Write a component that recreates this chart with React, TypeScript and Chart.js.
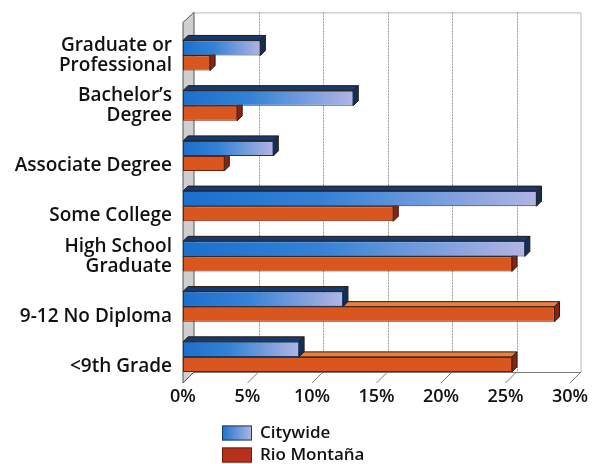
import React, { useEffect, useRef } from "react";
import { Chart, registerables } from "chart.js";

Chart.register(...registerables);

const categories: string[][] = [
  ["Graduate or", "Professional"],
  ["Bachelor’s", "Degree"],
  ["", "Associate Degree"],
  ["", "Some College"],
  ["High School", "Graduate"],
  ["", "9-12 No Diploma"],
  ["", "<9th Grade"],
];
const seriesNames = ["Citywide", "Rio Montaña"];
const citywide = [6.0, 13.2, 7.0, 27.4, 26.5, 12.4, 9.0];
const rioMontana = [2.1, 4.2, 3.2, 16.3, 25.5, 28.8, 25.5];
const xTicks = [0, 5, 10, 15, 20, 25, 30];

const FONT = "'Open Sans', 'DejaVu Sans', sans-serif";
const WALL_DX = 11;
const WALL_DY = 10;
const BAR_D = 5;

const depthColors = [
  { top: "#17396b", side: "#123056" },
  { top: "#e9803f", side: "#8a2410" },
];

const threeD = {
  id: "threeD",
  beforeDatasetsDraw(chart: any) {
    const { ctx, chartArea, scales } = chart;
    const { left, right, top, bottom } = chartArea;
    const backTop = top - 18;
    const backBottom = bottom - WALL_DY;
    ctx.save();
    ctx.strokeStyle = "#b8b8b8";
    ctx.lineWidth = 1;
    ctx.beginPath();
    ctx.moveTo(left + WALL_DX, backTop + 0.5);
    ctx.lineTo(right + WALL_DX, backTop + 0.5);
    ctx.lineTo(right + WALL_DX, backBottom);
    ctx.stroke();
    ctx.strokeStyle = "#9a9a9a";
    ctx.setLineDash([2, 1]);
    for (const v of xTicks) {
      const x = Math.round(scales.x.getPixelForValue(v) + WALL_DX) + 0.5;
      if (v === 0 || v === xTicks[xTicks.length - 1]) continue;
      ctx.beginPath();
      ctx.moveTo(x, backTop);
      ctx.lineTo(x, backBottom);
      ctx.stroke();
    }
    ctx.setLineDash([]);
    ctx.strokeStyle = "#7a7a7a";
    ctx.beginPath();
    ctx.moveTo(left + WALL_DX, backBottom + 0.5);
    ctx.lineTo(right + WALL_DX, backBottom + 0.5);
    ctx.stroke();
    for (const v of xTicks) {
      const x = scales.x.getPixelForValue(v);
      ctx.beginPath();
      ctx.moveTo(x, bottom + 1);
      ctx.lineTo(x + WALL_DX, backBottom);
      ctx.stroke();
    }
    ctx.fillStyle = "#cfcfcf";
    ctx.strokeStyle = "#555";
    ctx.beginPath();
    ctx.moveTo(left, top - 8);
    ctx.lineTo(left + WALL_DX, backTop);
    ctx.lineTo(left + WALL_DX, backBottom);
    ctx.lineTo(left, bottom + 1);
    ctx.closePath();
    ctx.fill();
    ctx.stroke();
    ctx.restore();
  },
  beforeDatasetDraw(chart: any, args: any) {
    const { ctx } = chart;
    const meta = args.meta;
    const col = depthColors[args.index];
    ctx.save();
    ctx.lineWidth = 1;
    ctx.strokeStyle = "#2a1a10";
    for (const el of meta.data) {
      const { x, y, base, height } = el.getProps(["x", "y", "base", "height"], true);
      const t = y - height / 2;
      const b = y + height / 2;
      ctx.fillStyle = col.top;
      ctx.beginPath();
      ctx.moveTo(base, t);
      ctx.lineTo(base + BAR_D, t - BAR_D);
      ctx.lineTo(x + BAR_D, t - BAR_D);
      ctx.lineTo(x, t);
      ctx.closePath();
      ctx.fill();
      ctx.stroke();
      ctx.fillStyle = col.side;
      ctx.beginPath();
      ctx.moveTo(x, t);
      ctx.lineTo(x + BAR_D, t - BAR_D);
      ctx.lineTo(x + BAR_D, b - BAR_D);
      ctx.lineTo(x, b);
      ctx.closePath();
      ctx.fill();
      ctx.stroke();
    }
    ctx.restore();
  },
  afterDraw(chart: any) {
    const { ctx } = chart;
    ctx.save();
    const bx = 222;
    const bw = 30;
    const bh = 15;
    const rows = [433, 455];
    chart.data.datasets.forEach((ds: any, i: number) => {
      const cy = rows[i];
      if (i === 0) {
        const g = ctx.createLinearGradient(bx, 0, bx + bw, 0);
        g.addColorStop(0, "#1f72cc");
        g.addColorStop(1, "#b3b6e4");
        ctx.fillStyle = g;
      } else {
        ctx.fillStyle = "#b7311c";
      }
      ctx.fillRect(bx, cy - bh / 2, bw, bh);
      ctx.strokeStyle = i === 0 ? "#1c3d6c" : "#6e1a0e";
      ctx.lineWidth = 1;
      ctx.strokeRect(bx + 0.5, cy - bh / 2 + 0.5, bw - 1, bh - 1);
      ctx.fillStyle = "#111";
      ctx.font = `600 17px ${FONT}`;
      ctx.textBaseline = "middle";
      ctx.textAlign = "left";
      ctx.fillText(ds.label, 260, cy);
    });
    ctx.restore();
  },
};

export default function App() {
  const ref = useRef<HTMLCanvasElement | null>(null);
  useEffect(() => {
    if (!ref.current) return;
    const chart = new Chart(ref.current, {
      type: "bar",
      data: {
        labels: categories,
        datasets: [
          {
            label: seriesNames[0],
            data: citywide,
            backgroundColor: (c: any) => {
              const ch = c.chart;
              const xs = ch.scales?.x;
              if (!xs || c.parsed == null) return "#2a7bd0";
              const x0 = xs.getPixelForValue(0);
              const x1 = xs.getPixelForValue(c.parsed.x ?? 0);
              if (!isFinite(x1) || x1 - x0 < 2) return "#2a7bd0";
              const g = ch.ctx.createLinearGradient(x0, 0, x1, 0);
              g.addColorStop(0, "#1b6fcd");
              g.addColorStop(0.4, "#3482d6");
              g.addColorStop(1, "#b2b4e3");
              return g;
            },
            borderColor: "#163a68",
            borderWidth: 1,
            borderSkipped: false,
          },
          {
            label: seriesNames[1],
            data: rioMontana,
            backgroundColor: "#d9561e",
            borderColor: "#6e200c",
            borderWidth: 1,
            borderSkipped: false,
          },
        ],
      },
      options: {
        indexAxis: "y",
        responsive: false,
        animation: false,
        layout: { padding: { top: 28, right: 25, bottom: 54, left: 0 } },
        datasets: { bar: { categoryPercentage: 0.6, barPercentage: 1 } },
        plugins: { legend: { display: false }, tooltip: { enabled: false } },
        scales: {
          x: {
            min: 0,
            max: 30,
            grid: { display: false, drawTicks: false },
            border: { display: false },
            afterFit: (s: any) => {
              s.height = 28;
            },
            afterBuildTicks: (s: any) => {
              s.ticks = xTicks.map((v) => ({ value: v }));
            },
            ticks: {
              color: "#111",
              padding: 4,
              font: { family: FONT, size: 18, weight: "600" },
              callback: (v: any) => `${v}%`,
              maxRotation: 0,
            },
          },
          y: {
            grid: { display: false, drawTicks: false },
            border: { display: false },
            afterFit: (s: any) => {
              s.width = 183;
            },
            ticks: {
              color: "#111",
              padding: 11,
              autoSkip: false,
              font: { family: FONT, size: 19, weight: "600", lineHeight: 1.02 },
            },
          },
        },
      },
      plugins: [threeD],
    } as any);
    return () => chart.destroy();
  }, []);
  return (
    <canvas
      ref={ref}
      width={595}
      height={464}
      style={{ position: "absolute", left: 0, top: 0, width: 595, height: 464 }}
    />
  );
}
